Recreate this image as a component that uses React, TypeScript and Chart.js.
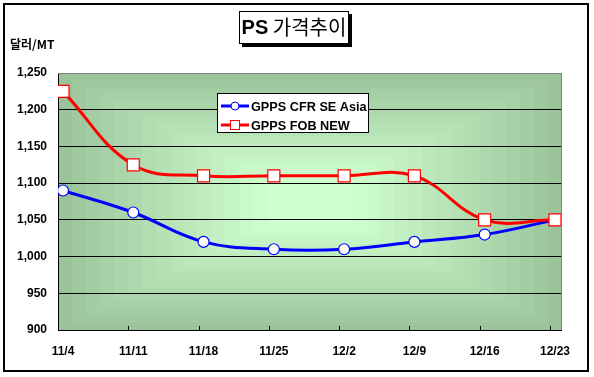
import React, { useEffect, useRef } from "react";
import { Chart, registerables } from "chart.js";

Chart.register(...registerables);

const categories = ["11/4", "11/11", "11/18", "11/25", "12/2", "12/9", "12/16", "12/23"];
const cfrSeAsia = [1090, 1060, 1020, 1010, 1010, 1020, 1030, 1050];
const fobNew = [1225, 1125, 1110, 1110, 1110, 1110, 1050, 1050];
const seriesNames = ["GPPS CFR SE Asia", "GPPS FOB NEW"];
const yTicks = [900, 950, 1000, 1050, 1100, 1150, 1200, 1250];
const titleBold = "PS";
const titleRest = " 가격추이";
const unitLabel = "달러/MT";

const X_MIN = -0.071;
const X_MAX = 7.1;

const lerp = (a: number[], b: number[], t: number) =>
  a.map((v, i) => Math.round(v + (b[i] - v) * t));

const decorPlugin = {
  id: "decor",
  beforeDraw(chart: any) {
    const { ctx, chartArea: a } = chart;
    ctx.save();
    ctx.fillStyle = "#ffffff";
    ctx.fillRect(0, 0, chart.width, chart.height);
    const edge = [154, 195, 154];
    const center = [207, 255, 207];
    const steps = 16;
    const W = a.right - a.left;
    const H = a.bottom - a.top;
    const cx = (a.left + a.right) / 2;
    const cy = (a.top + a.bottom) / 2;
    for (let k = 0; k < steps; k++) {
      const t = k / (steps - 1);
      const s = 1 - t * 0.83;
      const c = lerp(edge, center, Math.pow(t, 0.9));
      ctx.fillStyle = `rgb(${c[0]},${c[1]},${c[2]})`;
      const w = W * s;
      const h = H * s;
      ctx.fillRect(Math.round(cx - w / 2), Math.round(cy - h / 2), Math.round(w), Math.round(h));
    }
    ctx.restore();
  },
  afterDraw(chart: any) {
    const { ctx, chartArea: a } = chart;
    const xs = chart.scales.x;
    ctx.save();
    ctx.strokeStyle = "#808080";
    ctx.lineWidth = 1;
    ctx.beginPath();
    ctx.moveTo(a.left, a.top + 0.5);
    ctx.lineTo(a.right - 0.5, a.top + 0.5);
    ctx.lineTo(a.right - 0.5, a.bottom);
    ctx.stroke();
    ctx.strokeStyle = "#000000";
    ctx.beginPath();
    for (let i = 1; i < categories.length; i++) {
      const px = Math.round(xs.getPixelForValue(i + X_MIN)) + 0.5;
      ctx.moveTo(px, a.bottom);
      ctx.lineTo(px, a.bottom - 4);
    }
    ctx.stroke();
    ctx.lineWidth = 2;
    ctx.strokeRect(4, 4, 584, 367);

    const tx = 239, ty = 11, tw = 110, th = 33;
    ctx.fillStyle = "#000000";
    ctx.fillRect(tx + 3, ty + 3, tw, th);
    ctx.fillStyle = "#ffffff";
    ctx.fillRect(tx, ty, tw, th);
    ctx.lineWidth = 1;
    ctx.strokeStyle = "#000000";
    ctx.strokeRect(tx + 0.5, ty + 0.5, tw - 1, th - 1);
    ctx.fillStyle = "#000000";
    ctx.textBaseline = "middle";
    ctx.textAlign = "left";
    const fb = "bold 20px 'Liberation Sans', Arial, sans-serif";
    const fr = "20px 'Noto Sans CJK KR', 'Liberation Sans', sans-serif";
    ctx.font = fb;
    const wBold = ctx.measureText(titleBold).width;
    ctx.font = fr;
    const wRest = ctx.measureText(titleRest).width;
    const startX = tx + tw / 2 - (wBold + wRest) / 2;
    ctx.font = fb;
    ctx.fillText(titleBold, startX, ty + th / 2 + 1);
    ctx.font = fr;
    ctx.fillText(titleRest, startX + wBold, ty + th / 2);

    ctx.font = "bold 12px 'Noto Sans CJK KR', 'Liberation Sans', sans-serif";
    ctx.fillText(unitLabel, 10, 44);

    const lx = 217, ly = 93, lw = 152, lh = 40;
    ctx.fillStyle = "#ffffff";
    ctx.fillRect(lx, ly, lw, lh);
    ctx.strokeStyle = "#000000";
    ctx.strokeRect(lx + 0.5, ly + 0.5, lw - 1, lh - 1);
    chart.data.datasets.forEach((ds: any, i: number) => {
      const rowY = ly + 13 + i * 19;
      ctx.strokeStyle = ds.borderColor;
      ctx.lineWidth = 3;
      ctx.beginPath();
      ctx.moveTo(lx + 4, rowY);
      ctx.lineTo(lx + 32, rowY);
      ctx.stroke();
      ctx.fillStyle = "#ffffff";
      ctx.strokeStyle = ds.pointBorderColor;
      ctx.lineWidth = 1;
      if (ds.pointStyle === "rect") {
        ctx.fillRect(lx + 13, rowY - 5, 10, 10);
        ctx.strokeRect(lx + 13.5, rowY - 4.5, 9, 9);
      } else {
        ctx.beginPath();
        ctx.arc(lx + 18, rowY, 4, 0, Math.PI * 2);
        ctx.fill();
        ctx.stroke();
      }
      ctx.fillStyle = "#000000";
      ctx.font = "bold 12.7px 'Liberation Sans', Arial, sans-serif";
      ctx.textBaseline = "middle";
      ctx.fillText(ds.label, lx + 34, rowY + 1);
    });
    ctx.restore();
  },
};

export default function App() {
  const ref = useRef<HTMLCanvasElement | null>(null);
  useEffect(() => {
    if (!ref.current) return;
    const chart = new Chart(ref.current, {
      type: "line",
      data: {
        datasets: [
          {
            label: seriesNames[0],
            data: cfrSeAsia.map((v, i) => ({ x: i, y: v })),
            borderColor: "#0000ff",
            borderWidth: 3,
            pointStyle: "circle",
            pointRadius: 5.5,
            pointBackgroundColor: "#ffffff",
            pointBorderColor: "#0000ff",
            pointBorderWidth: 1.2,
            tension: 0.4,
            order: 1,
          },
          {
            label: seriesNames[1],
            data: fobNew.map((v, i) => ({ x: i, y: v })),
            borderColor: "#ff0000",
            borderWidth: 3,
            pointStyle: "rect",
            pointRadius: 8.5,
            pointBackgroundColor: "#ffffff",
            pointBorderColor: "#ff0000",
            pointBorderWidth: 1.2,
            tension: 0.4,
            order: 0,
          },
        ],
      },
      options: {
        animation: false,
        responsive: false,
        maintainAspectRatio: false,
        layout: { padding: { top: 73, right: 32, left: 0, bottom: 0 } },
        plugins: { legend: { display: false }, tooltip: { enabled: false }, title: { display: false } },
        scales: {
          x: {
            type: "linear",
            min: X_MIN,
            max: X_MAX,
            afterFit: (s: any) => { s.height = 47; },
            afterBuildTicks: (s: any) => { s.ticks = categories.map((_, i) => ({ value: i })); },
            grid: { display: false, drawTicks: false },
            border: { display: false },
            ticks: {
              padding: 14,
              color: "#000000",
              font: { family: "'Liberation Sans', Arial, sans-serif", size: 12, weight: "bold" },
              callback: (v: any) => categories[Math.round(Number(v))] ?? "",
              autoSkip: false,
              maxRotation: 0,
            },
          },
          y: {
            min: 900,
            max: 1250,
            afterFit: (s: any) => { s.width = 58; },
            afterBuildTicks: (s: any) => { s.ticks = yTicks.map((v) => ({ value: v })); },
            grid: {
              color: (c: any) => (c.tick && c.tick.value === 1250 ? "rgba(0,0,0,0)" : "#000000"),
              lineWidth: 1,
              drawTicks: false,
            },
            border: { display: true, color: "#000000", width: 1 },
            ticks: {
              padding: 11,
              color: "#000000",
              font: { family: "'Liberation Sans', Arial, sans-serif", size: 12, weight: "bold" },
              callback: (v: any) => Number(v).toLocaleString("en-US"),
            },
          },
        },
      },
      plugins: [decorPlugin],
    });
    return () => chart.destroy();
  }, []);
  return (
    <div style={{ position: "fixed", left: 0, top: 0, width: 594, height: 377 }}>
      <canvas ref={ref} width={594} height={377} style={{ width: 594, height: 377, display: "block" }} />
    </div>
  );
}
